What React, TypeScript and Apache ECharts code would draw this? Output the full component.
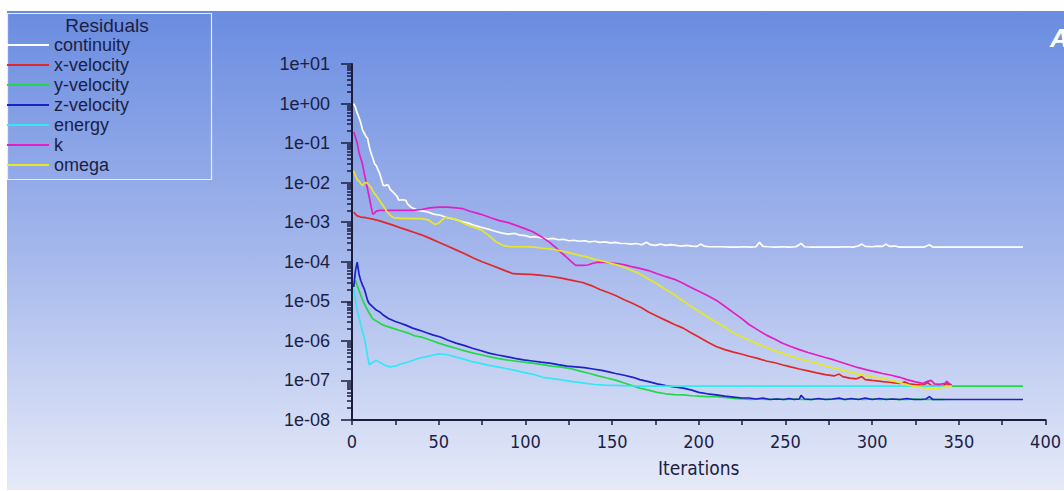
import React, { useEffect, useRef } from 'react';
import * as echarts from 'echarts';

const SERIES_NAMES = ['continuity', 'x-velocity', 'y-velocity', 'z-velocity', 'energy', 'k', 'omega'];
const SERIES_COLORS = ['#ffffff', '#e0282c', '#22d84a', '#1c22c8', '#36e6f2', '#e21ec4', '#e4e828'];

const Y_TICK_LABELS = ['1e-08', '1e-07', '1e-06', '1e-05', '1e-04', '1e-03', '1e-02', '1e-01', '1e+00', '1e+01'];
const Y_MAJOR = [1e-8, 1e-7, 1e-6, 1e-5, 1e-4, 1e-3, 1e-2, 1e-1, 1, 10];
const MANTISSAS = [2, 3, 4, 5, 6, 7, 8, 9];
const X_MIN = 0;
const X_MAX = 400;
const X_STEP = 50;

const CONTINUITY = [
  [1, 1.0], [2, 0.8], [3, 0.58], [4, 0.45], [5, 0.33], [6, 0.22], [7, 0.18], [8, 0.15], [9, 0.13], [10, 0.08],
  [11, 0.055], [12, 0.042], [13, 0.03], [14, 0.027], [15, 0.021], [16, 0.017], [17, 0.012], [18, 0.0085], [19, 0.0084],
  [20, 0.0088], [21, 0.0086], [22, 0.0068], [24, 0.0056], [26, 0.0045], [27, 0.0036], [29, 0.0037], [31, 0.0036],
  [32, 0.0029], [34, 0.0024], [36, 0.0022], [38, 0.002], [41, 0.0019], [44, 0.0018], [47, 0.0016], [51, 0.0015],
  [55, 0.0013], [59, 0.0012], [63, 0.00105], [67, 0.00095], [70, 0.00085], [74, 0.00075], [78, 0.00068], [82, 0.0006],
  [86, 0.00054], [90, 0.0005], [94, 0.00052], [97, 0.00047], [100, 0.00046], [103, 0.00042], [106, 0.00043], [109, 0.0004],
  [113, 0.00038], [116, 0.00039], [119, 0.00036], [122, 0.00037], [125, 0.00034], [128, 0.00035], [131, 0.00033],
  [134, 0.00034], [137, 0.00032], [140, 0.00033], [143, 0.00031], [146, 0.00032], [149, 0.0003], [152, 0.00031],
  [155, 0.00029], [158, 0.00029], [161, 0.00028], [164, 0.00029], [167, 0.00027], [170, 0.00031], [172, 0.00027],
  [175, 0.00026], [178, 0.00028], [181, 0.00026], [184, 0.00027], [187, 0.00026], [190, 0.00025], [193, 0.00026],
  [196, 0.00025], [199, 0.000245], [201, 0.00028], [203, 0.00025], [206, 0.00024], [210, 0.00024], [214, 0.00024],
  [218, 0.000235], [222, 0.000235], [226, 0.00024], [230, 0.000235], [233, 0.00024], [235, 0.00031], [237, 0.000245],
  [240, 0.00024], [244, 0.000235], [248, 0.00024], [252, 0.000235], [256, 0.00024], [259, 0.00029], [261, 0.00024],
  [265, 0.000235], [270, 0.000235], [275, 0.000235], [280, 0.000235], [285, 0.00024], [289, 0.000235], [292, 0.00025],
  [294, 0.00028], [296, 0.000245], [300, 0.00024], [303, 0.00025], [306, 0.000245], [308, 0.00028], [310, 0.000245],
  [313, 0.00025], [316, 0.000235], [320, 0.000235], [325, 0.000235], [330, 0.000235], [333, 0.00027], [335, 0.000235],
  [340, 0.000235], [350, 0.000235], [360, 0.000235], [370, 0.000235], [387, 0.000235],
];

const X_VELOCITY = [
  [1, 1.8e-3], [2, 1.6e-3], [3, 1.45e-3], [5, 1.35e-3], [8, 1.3e-3], [12, 1.2e-3], [16, 1.08e-3], [20, 9.5e-4],
  [24, 8.3e-4], [28, 7.2e-4], [32, 6.3e-4], [36, 5.5e-4], [40, 4.8e-4], [45, 3.9e-4], [50, 3.1e-4], [55, 2.5e-4],
  [60, 2.0e-4], [65, 1.6e-4], [70, 1.25e-4], [75, 1.0e-4], [80, 8.3e-5], [85, 6.8e-5], [89, 5.8e-5], [93, 5.0e-5],
  [98, 4.9e-5], [103, 4.8e-5], [108, 4.6e-5], [114, 4.3e-5], [120, 3.9e-5], [127, 3.4e-5], [133, 3.0e-5], [138, 2.5e-5],
  [143, 2.0e-5], [148, 1.65e-5], [152, 1.4e-5], [157, 1.1e-5], [162, 8.8e-6], [167, 6.9e-6], [171, 5.4e-6], [176, 4.2e-6],
  [181, 3.3e-6], [186, 2.6e-6], [191, 2.1e-6], [195, 1.65e-6], [200, 1.25e-6], [205, 9.4e-7], [210, 7.2e-7], [215, 6.0e-7],
  [220, 5.2e-7], [225, 4.6e-7], [229, 4.1e-7], [234, 3.6e-7], [239, 3.1e-7], [244, 2.8e-7], [248, 2.5e-7], [253, 2.2e-7],
  [258, 1.95e-7], [263, 1.75e-7], [268, 1.55e-7], [273, 1.4e-7], [278, 1.3e-7], [281, 1.45e-7], [283, 1.25e-7],
  [287, 1.15e-7], [291, 1.1e-7], [294, 1.25e-7], [296, 1.05e-7], [300, 1.0e-7], [304, 9.6e-8], [306, 9.3e-8], [310, 9.0e-8],
  [313, 8.7e-8], [316, 8.4e-8], [319, 9.2e-8], [321, 8.2e-8], [325, 7.8e-8], [329, 7.6e-8], [332, 8.8e-8], [334, 7.5e-8],
  [338, 7.4e-8], [341, 7.5e-8], [343, 8.4e-8], [345, 7.5e-8], [346, 7.5e-8],
];

const Y_VELOCITY = [
  [1, 2.5e-5], [2, 3.4e-5], [3, 2.5e-5], [4, 1.9e-5], [6, 1.1e-5], [8, 7.2e-6], [10, 5.0e-6], [12, 3.6e-6], [15, 3.0e-6],
  [18, 2.5e-6], [22, 2.2e-6], [27, 1.86e-6], [32, 1.6e-6], [36, 1.35e-6], [40, 1.25e-6], [45, 1.05e-6], [50, 8.8e-7],
  [55, 7.5e-7], [60, 6.5e-7], [65, 5.6e-7], [70, 4.9e-7], [75, 4.4e-7], [79, 4.0e-7], [84, 3.6e-7], [89, 3.3e-7],
  [94, 3.1e-7], [98, 2.95e-7], [104, 2.75e-7], [110, 2.5e-7], [115, 2.3e-7], [120, 2.2e-7], [126, 2.0e-7], [131, 1.75e-7],
  [137, 1.5e-7], [142, 1.3e-7], [147, 1.15e-7], [152, 1.02e-7], [157, 8.6e-8], [162, 7.3e-8], [166, 6.4e-8], [171, 5.7e-8],
  [176, 5.0e-8], [181, 4.6e-8], [186, 4.4e-8], [191, 4.3e-8], [196, 4.1e-8], [200, 4.0e-8], [205, 3.9e-8], [210, 3.9e-8],
  [215, 3.7e-8], [220, 3.5e-8], [225, 3.4e-8], [230, 3.3e-8], [235, 3.4e-8], [240, 3.3e-8], [245, 3.4e-8], [250, 3.3e-8],
  [255, 3.4e-8], [260, 3.3e-8], [265, 3.3e-8], [270, 3.4e-8], [275, 3.3e-8], [280, 3.4e-8], [285, 3.3e-8], [290, 3.4e-8],
  [295, 3.3e-8], [300, 3.4e-8], [305, 3.3e-8], [310, 3.4e-8], [315, 3.3e-8], [320, 3.3e-8], [325, 3.4e-8], [330, 3.3e-8],
  [335, 3.3e-8], [342, 3.3e-8], [344, '-'], [346, 7.2e-8], [360, 7.2e-8], [387, 7.2e-8],
];

const Z_VELOCITY = [
  [1, 2.3e-5], [2, 6e-5], [3, 9.8e-5], [4, 5e-5], [5, 3.4e-5], [6, 2.6e-5], [7, 2.1e-5], [8, 1.5e-5], [9, 1.05e-5],
  [10, 8.7e-6], [12, 7.2e-6], [14, 6.0e-6], [16, 5.4e-6], [18, 4.5e-6], [21, 3.7e-6], [25, 3.1e-6], [28, 2.8e-6],
  [31, 2.5e-6], [35, 2.1e-6], [39, 1.85e-6], [43, 1.6e-6], [47, 1.4e-6], [51, 1.25e-6], [55, 1.05e-6], [60, 8.8e-7],
  [65, 7.6e-7], [69, 6.6e-7], [74, 5.7e-7], [79, 4.9e-7], [84, 4.4e-7], [89, 4.0e-7], [94, 3.6e-7], [99, 3.3e-7],
  [104, 3.1e-7], [109, 2.9e-7], [114, 2.75e-7], [119, 2.5e-7], [124, 2.3e-7], [129, 2.2e-7], [134, 2.1e-7], [139, 1.95e-7],
  [144, 1.8e-7], [148, 1.65e-7], [152, 1.5e-7], [157, 1.35e-7], [162, 1.2e-7], [166, 1.05e-7], [171, 9.3e-8], [176, 8.2e-8],
  [181, 7.4e-8], [186, 6.9e-8], [191, 6.4e-8], [196, 5.7e-8], [200, 5.0e-8], [205, 4.6e-8], [210, 4.3e-8], [215, 4.0e-8],
  [220, 3.8e-8], [225, 3.6e-8], [229, 3.6e-8], [233, 3.4e-8], [237, 3.6e-8], [241, 3.3e-8], [245, 3.4e-8], [249, 3.3e-8],
  [252, 3.5e-8], [255, 3.3e-8], [258, 3.4e-8], [259, 4.2e-8], [261, 3.4e-8], [265, 3.3e-8], [269, 3.5e-8], [273, 3.3e-8],
  [277, 3.4e-8], [281, 3.6e-8], [284, 3.3e-8], [288, 3.5e-8], [292, 3.3e-8], [296, 3.6e-8], [300, 3.3e-8], [304, 3.5e-8],
  [308, 3.3e-8], [312, 3.4e-8], [316, 3.3e-8], [320, 3.5e-8], [324, 3.3e-8], [328, 3.3e-8], [331, 3.4e-8], [333, 3.9e-8],
  [335, 3.3e-8], [340, 3.3e-8], [346, 3.3e-8], [360, 3.3e-8], [374, 3.3e-8], [387, 3.3e-8],
];

const ENERGY = [
  [1, 2.1e-5], [2, 1.1e-5], [3, 6.0e-6], [4, 4.1e-6], [5, 2.6e-6], [6, 1.7e-6], [7, 1.25e-6], [8, 7.5e-7], [9, 4.0e-7],
  [10, 2.5e-7], [12, 2.9e-7], [14, 3.2e-7], [16, 2.9e-7], [19, 2.4e-7], [22, 2.2e-7], [25, 2.3e-7], [28, 2.6e-7],
  [31, 2.8e-7], [35, 3.2e-7], [39, 3.7e-7], [43, 4.0e-7], [47, 4.4e-7], [50, 4.7e-7], [53, 4.6e-7], [56, 4.4e-7],
  [60, 3.9e-7], [65, 3.4e-7], [69, 3.0e-7], [74, 2.7e-7], [79, 2.4e-7], [84, 2.2e-7], [89, 2.0e-7], [94, 1.8e-7],
  [99, 1.6e-7], [104, 1.45e-7], [110, 1.2e-7], [120, 1.05e-7], [127, 9.3e-8], [133, 8.7e-8], [140, 7.9e-8], [146, 7.6e-8],
  [152, 7.5e-8], [160, 7.3e-8], [170, 7.2e-8], [180, 7.2e-8], [200, 7.2e-8], [250, 7.2e-8], [300, 7.2e-8], [346, 7.2e-8],
];

const K = [
  [1, 0.19], [2, 0.14], [3, 0.1], [4, 0.058], [5, 0.042], [6, 0.03], [7, 0.018], [8, 0.011], [9, 0.0068], [10, 0.0042],
  [11, 0.0025], [12, 0.0016], [13, 0.0017], [14, 0.0019], [16, 0.002], [20, 0.002], [25, 0.002], [30, 0.002], [35, 0.002],
  [40, 0.0021], [45, 0.0023], [50, 0.0024], [55, 0.0024], [60, 0.0023], [64, 0.0022], [68, 0.0019], [72, 0.0017],
  [76, 0.0015], [80, 0.0013], [85, 0.0011], [90, 0.00098], [95, 0.00082], [100, 0.00068], [104, 0.00058], [108, 0.00046],
  [111, 0.00038], [114, 0.00031], [117, 0.00024], [120, 0.00018], [123, 0.00014], [126, 0.000105], [129, 8.1e-5],
  [133, 8.1e-5], [136, 8.3e-5], [139, 9.2e-5], [142, 9.8e-5], [146, 9.7e-5], [150, 9.3e-5], [154, 8.9e-5], [158, 8.2e-5],
  [162, 7.4e-5], [166, 6.8e-5], [171, 6.0e-5], [176, 5.0e-5], [181, 4.2e-5], [186, 3.6e-5], [190, 3.0e-5], [195, 2.3e-5],
  [200, 1.8e-5], [205, 1.4e-5], [210, 1.07e-5], [215, 7.5e-6], [220, 5.2e-6], [225, 3.6e-6], [229, 2.6e-6], [234, 1.9e-6],
  [239, 1.4e-6], [244, 1.1e-6], [248, 8.8e-7], [253, 7.2e-7], [258, 6.0e-7], [263, 5.1e-7], [268, 4.4e-7], [273, 3.8e-7],
  [278, 3.3e-7], [283, 2.8e-7], [287, 2.45e-7], [292, 2.1e-7], [297, 1.85e-7], [302, 1.65e-7], [306, 1.5e-7], [311, 1.35e-7],
  [316, 1.2e-7], [320, 1.05e-7], [325, 9.2e-8], [329, 8.4e-8], [332, 9.5e-8], [334, 1.0e-7], [336, 8.2e-8], [339, 8.0e-8],
  [342, 8.5e-8], [343, 9.5e-8], [345, 8.0e-8], [346, 7.8e-8],
];

const OMEGA = [
  [1, 0.02], [2, 0.015], [3, 0.012], [4, 0.011], [5, 0.0095], [6, 0.0085], [7, 0.0095], [8, 0.0102], [9, 0.0095],
  [10, 0.0085], [11, 0.0075], [12, 0.0062], [13, 0.0052], [14, 0.0047], [16, 0.0035], [18, 0.0026], [20, 0.0019],
  [22, 0.0015], [24, 0.0013], [28, 0.00125], [32, 0.00125], [36, 0.00124], [40, 0.00123], [44, 0.00115], [46, 0.001],
  [48, 0.00088], [50, 0.00095], [52, 0.00115], [54, 0.00135], [56, 0.0013], [60, 0.00118], [65, 0.00092], [70, 0.00075],
  [75, 0.00062], [79, 0.00046], [83, 0.00032], [87, 0.00026], [91, 0.00024], [95, 0.00024], [100, 0.00024],
  [105, 0.000235], [110, 0.00022], [115, 0.00021], [120, 0.00019], [125, 0.00017], [130, 0.00015], [135, 0.000135],
  [140, 0.000115], [145, 0.000103], [150, 9.0e-5], [155, 7.8e-5], [160, 6.4e-5], [165, 5.2e-5], [170, 3.9e-5],
  [175, 2.9e-5], [180, 2.1e-5], [185, 1.55e-5], [190, 1.1e-5], [195, 7.8e-6], [200, 5.6e-6], [205, 4.0e-6], [210, 3.0e-6],
  [215, 2.2e-6], [220, 1.6e-6], [225, 1.25e-6], [229, 1.05e-6], [234, 8.4e-7], [239, 6.8e-7], [244, 5.6e-7], [248, 4.9e-7],
  [253, 4.1e-7], [258, 3.5e-7], [263, 3.1e-7], [268, 2.75e-7], [273, 2.35e-7], [278, 2.05e-7], [283, 1.8e-7],
  [287, 1.65e-7], [292, 1.45e-7], [297, 1.3e-7], [302, 1.2e-7], [306, 1.15e-7], [311, 1.0e-7], [316, 8.8e-8],
  [320, 7.8e-8], [325, 7.0e-8], [330, 6.5e-8], [334, 6.3e-8], [338, 6.4e-8], [342, 6.8e-8], [346, 7.2e-8],
];

const SERIES_DATA = [CONTINUITY, X_VELOCITY, Y_VELOCITY, Z_VELOCITY, ENERGY, K, OMEGA];

const TEXT_COLOR = '#1b1e45';
const AXIS_COLOR = '#1a1d3c';
const SANS = '"Liberation Sans", Arial, sans-serif';
const NARROW = '"Liberation Sans Narrow", "DejaVu Sans Condensed", "Liberation Sans", sans-serif';

export default function App() {
  const ref = useRef<HTMLDivElement>(null);

  useEffect(() => {
    if (!ref.current) return;
    const chart = echarts.init(ref.current, null, { renderer: 'svg' });

    // minor tick positions in log10 space (2..9 within each decade)
    const minorLog: number[] = [];
    Y_MAJOR.slice(0, -1).forEach((d) => {
      MANTISSAS.forEach((m) => minorLog.push(Math.log10(m * d)));
    });
    const majorLog = Y_MAJOR.map((v) => Math.round(Math.log10(v)));

    const labelFor = (v: number) => {
      const e = Math.round(Math.log10(v));
      return Y_TICK_LABELS[e + 8] ?? '';
    };

    const option: any = {
      animation: false,
      backgroundColor: '#ffffff',
      graphic: {
        elements: [
          {
            type: 'rect',
            z: -10,
            silent: true,
            shape: { x: 7, y: 11, width: 1057, height: 479 },
            style: {
              fill: {
                type: 'linear', x: 0, y: 0, x2: 0, y2: 1,
                colorStops: [
                  { offset: 0, color: '#6a8ce0' },
                  { offset: 0.5, color: '#a4b7ec' },
                  { offset: 1, color: '#e6eaf8' },
                ],
              },
            },
          },
          {
            type: 'rect',
            silent: true,
            shape: { x: 7.5, y: 13.5, width: 204, height: 166 },
            style: { fill: 'none', stroke: '#e6ecfa', lineWidth: 1.2 },
          },
          {
            type: 'text',
            silent: true,
            x: 107,
            y: 25,
            style: {
              text: 'Residuals',
              fill: TEXT_COLOR,
              font: `19px ${SANS}`,
              align: 'center',
              verticalAlign: 'middle',
            },
          },
          {
            type: 'text',
            silent: true,
            x: 1050,
            y: 38,
            style: {
              text: 'A',
              fill: '#ffffff',
              font: `italic bold 26px ${SANS}`,
              align: 'left',
              verticalAlign: 'middle',
            },
          },
        ],
      },
      legend: {
        data: SERIES_NAMES,
        orient: 'vertical',
        left: 7,
        top: 35,
        padding: 0,
        itemGap: 0,
        itemWidth: 42,
        itemHeight: 2,
        icon: 'rect',
        selectedMode: false,
        textStyle: { fontSize: 18, lineHeight: 20, color: TEXT_COLOR, fontFamily: SANS },
      },
      grid: { left: 352, right: 18, top: 64, bottom: 71, containLabel: false },
      xAxis: {
        type: 'value',
        min: X_MIN,
        max: X_MAX,
        interval: X_STEP,
        name: 'Iterations',
        nameLocation: 'middle',
        nameGap: 38,
        nameTextStyle: { fontSize: 19, color: TEXT_COLOR, fontFamily: NARROW },
        axisLine: { show: true, onZero: false, lineStyle: { color: AXIS_COLOR, width: 2 } },
        axisTick: { show: true, length: 5, lineStyle: { color: AXIS_COLOR, width: 1.5 } },
        minorTick: { show: true, splitNumber: 2, length: 5, lineStyle: { color: AXIS_COLOR, width: 1.5 } },
        axisLabel: { fontSize: 18, margin: 12, color: TEXT_COLOR, fontFamily: NARROW },
        splitLine: { show: false },
      },
      yAxis: [
        {
          type: 'log',
          logBase: 10,
          min: Y_MAJOR[0],
          max: Y_MAJOR[Y_MAJOR.length - 1],
          axisLine: { show: true, onZero: false, lineStyle: { color: AXIS_COLOR, width: 2 } },
          axisTick: { show: true, length: 11, customValues: Y_MAJOR, lineStyle: { color: AXIS_COLOR, width: 1.5 } },
          axisLabel: {
            customValues: Y_MAJOR,
            formatter: labelFor,
            fontSize: 18,
            margin: 22,
            color: TEXT_COLOR,
            fontFamily: SANS,
          },
          splitLine: { show: false },
          minorTick: { show: false },
        },
        {
          type: 'value',
          min: majorLog[0],
          max: majorLog[majorLog.length - 1],
          position: 'left',
          offset: 0,
          axisLine: { show: false, onZero: false },
          axisTick: { show: true, length: 5, customValues: minorLog, lineStyle: { color: AXIS_COLOR, width: 1.5 } },
          axisLabel: { show: false },
          splitLine: { show: false },
        },
      ],
      series: SERIES_NAMES.map((name, i) => ({
        name,
        type: 'line',
        yAxisIndex: 0,
        data: SERIES_DATA[i],
        symbol: 'none',
        showSymbol: false,
        connectNulls: false,
        color: SERIES_COLORS[i],
        lineStyle: { color: SERIES_COLORS[i], width: 1.7 },
        emphasis: { disabled: true },
        silent: true,
      })),
    };

    chart.setOption(option);
    return () => chart.dispose();
  }, []);

  return (
    <div
      ref={ref}
      style={{ position: 'fixed', left: 0, top: 0, width: 1064, height: 491 }}
    />
  );
}
